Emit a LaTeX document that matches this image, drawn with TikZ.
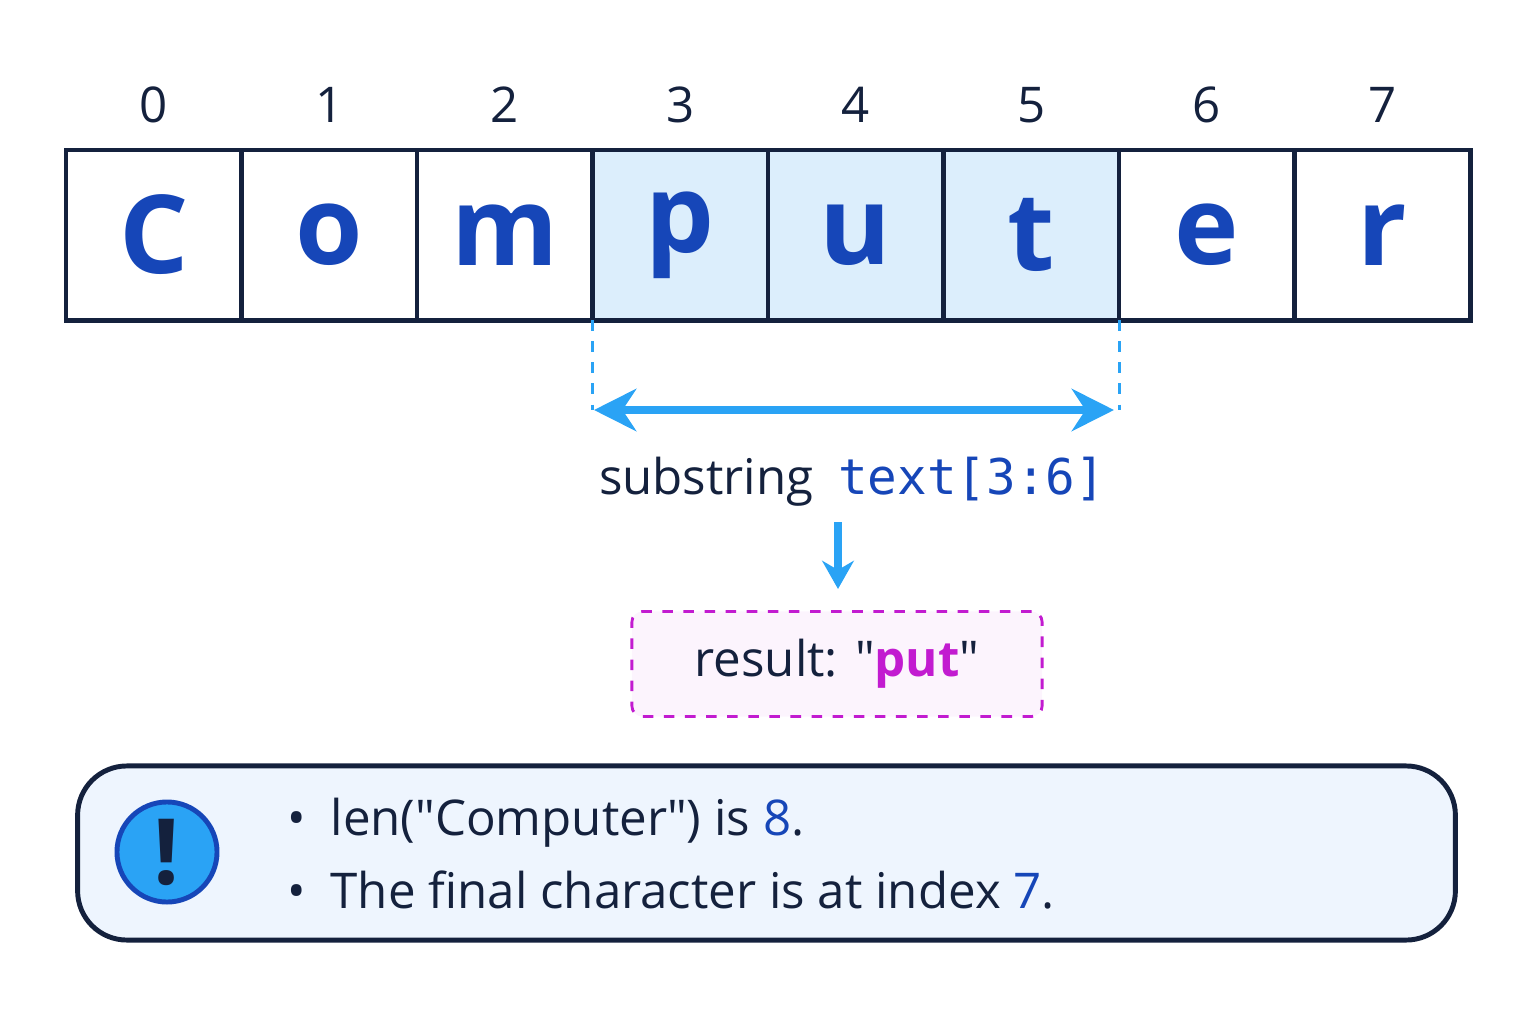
\documentclass[tikz,border=0pt]{standalone}
\usepackage{fontspec}
\setmainfont{Open Sans}
\setmonofont{DejaVu Sans Mono}
\usetikzlibrary{positioning,arrows.meta}
\definecolor{ink}{HTML}{14213D}
\definecolor{letter}{HTML}{1646B8}
\definecolor{hl}{HTML}{DCEEFC}
\definecolor{sky}{HTML}{2AA3F5}
\definecolor{mag}{HTML}{C21BD0}
\definecolor{note}{HTML}{EEF5FE}
\newcommand{\qq}{\textquotedbl}
\tikzstyle{cell} = [rectangle, minimum width=1.755cm, minimum height=1.7cm, draw=ink, line width=1.4pt, inner sep=0pt, outer sep=0pt, font=\fontsize{31}{31}\selectfont\bfseries, text=letter, anchor=north west]
\tikzstyle{index} = [font=\fontsize{14}{14}\selectfont, text=ink]
\tikzstyle{guide} = [sky, thick, dashed]
\tikzstyle{flow} = [sky, line width=2pt, -{Stealth[length=8pt,width=9pt]}]
\begin{document}
\begin{tikzpicture}[x=0.01cm, y=-0.01cm]
      \useasboundingbox (0,0) rectangle (1536,1024);
      \foreach \ch [count=\i from 0] in {C,o,m,p,u,t,e,r} {
        \ifnum\i>2 \ifnum\i<6 \def\fc{hl}\else\def\fc{white}\fi \else\def\fc{white}\fi
        \node (c\i) [cell, fill=\fc] at ({66+175.5*\i},150) {\ch};
        \node (i\i) [index] at ({153.75+175.5*\i},105) {\i};
      }
      \coordinate (l) at (594,410);
      \coordinate (r) at (1114,410);
      \draw [guide] (c3.south west) -- (c3.south west |- l);
      \draw [guide] (c5.south east) -- (c5.south east |- r);
      \draw [sky, line width=2pt, {Stealth[length=12pt,width=12pt]}-{Stealth[length=12pt,width=12pt]}] (l) -- (r);

      \node (sub) [font=\fontsize{14}{14}\selectfont, text=ink] at (852,482) {substring\enspace\textcolor{letter}{\texttt{text[3:6]}}};
      \node (res) [draw=mag, dashed, thick, fill=mag!5, rounded corners=3pt, minimum width=4.1cm, minimum height=1.05cm, font=\fontsize{14}{14}\selectfont, text=ink] at (837,664) {result: \qq\textcolor{mag}{\bfseries put}\qq};
      \coordinate (drop) at (838,522);
      \draw [flow] (drop) -- ([yshift=6pt]drop |- res.north);

      \node (box) [draw=ink, line width=1.4pt, fill=note, rounded corners=14pt, minimum width=13.77cm, minimum height=1.74cm] at (766.5,853) {};
      \node (warn) [circle, draw=letter, line width=1.4pt, fill=sky, minimum size=1cm, inner sep=0pt, font=\fontsize{26}{26}\selectfont\bfseries, text=ink] at (167,852) {!};
      \node (n1) [anchor=west, font=\fontsize{14}{14}\selectfont, text=ink] at (275,823) {\textbullet\enspace len(\qq Computer\qq) is \textcolor{letter}{8}.};
      \node (n2) [anchor=west, font=\fontsize{14}{14}\selectfont, text=ink] at (275,890) {\textbullet\enspace The final character is at index \textcolor{letter}{7}.};
\end{tikzpicture}
\end{document}
